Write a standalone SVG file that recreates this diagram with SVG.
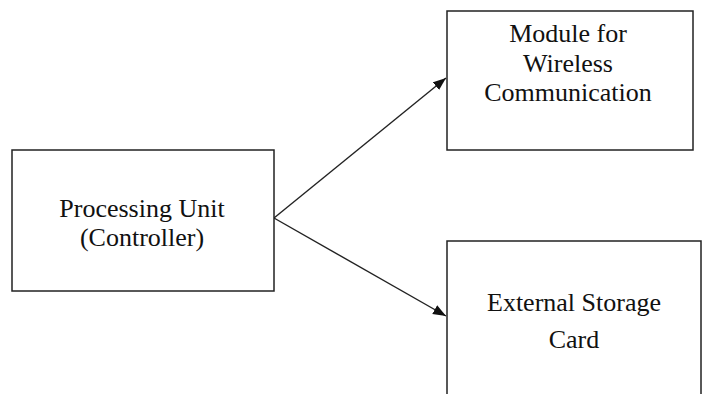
<svg xmlns="http://www.w3.org/2000/svg" width="705" height="394" viewBox="0 0 705 394">
<style>
.box{fill:#fff;stroke:#222;stroke-width:1.5}
.t{font-family:"Liberation Serif","Times New Roman",serif;font-size:26px;fill:#111;text-anchor:middle}
.c{stroke:#222;stroke-width:1.4;fill:none;marker-end:url(#ah)}
</style>
<defs>
<marker id="ah" markerUnits="userSpaceOnUse" markerWidth="14" markerHeight="12" refX="13" refY="5" orient="auto">
<path d="M0,0 L13,5 L0,10 Z" fill="#111"/>
</marker>
</defs>
<rect width="705" height="394" fill="#fff"/>
<g id="connectors">
<line class="c" x1="274" y1="218" x2="446" y2="78"/>
<line class="c" x1="274" y1="218" x2="446" y2="316"/>
</g>
<g id="processing-unit">
<rect class="box" x="12" y="150" width="262" height="141"/>
<text class="t" x="142" y="217">Processing Unit</text>
<text class="t" x="142" y="246">(Controller)</text>
</g>
<g id="wireless-module">
<rect class="box" x="447" y="11" width="246" height="139"/>
<text class="t" x="568" y="42">Module for</text>
<text class="t" x="568" y="72">Wireless</text>
<text class="t" x="568" y="101">Communication</text>
</g>
<g id="storage-card">
<rect class="box" x="447" y="241" width="254" height="170"/>
<text class="t" x="574" y="311">External Storage</text>
<text class="t" x="574" y="348">Card</text>
</g>
</svg>
